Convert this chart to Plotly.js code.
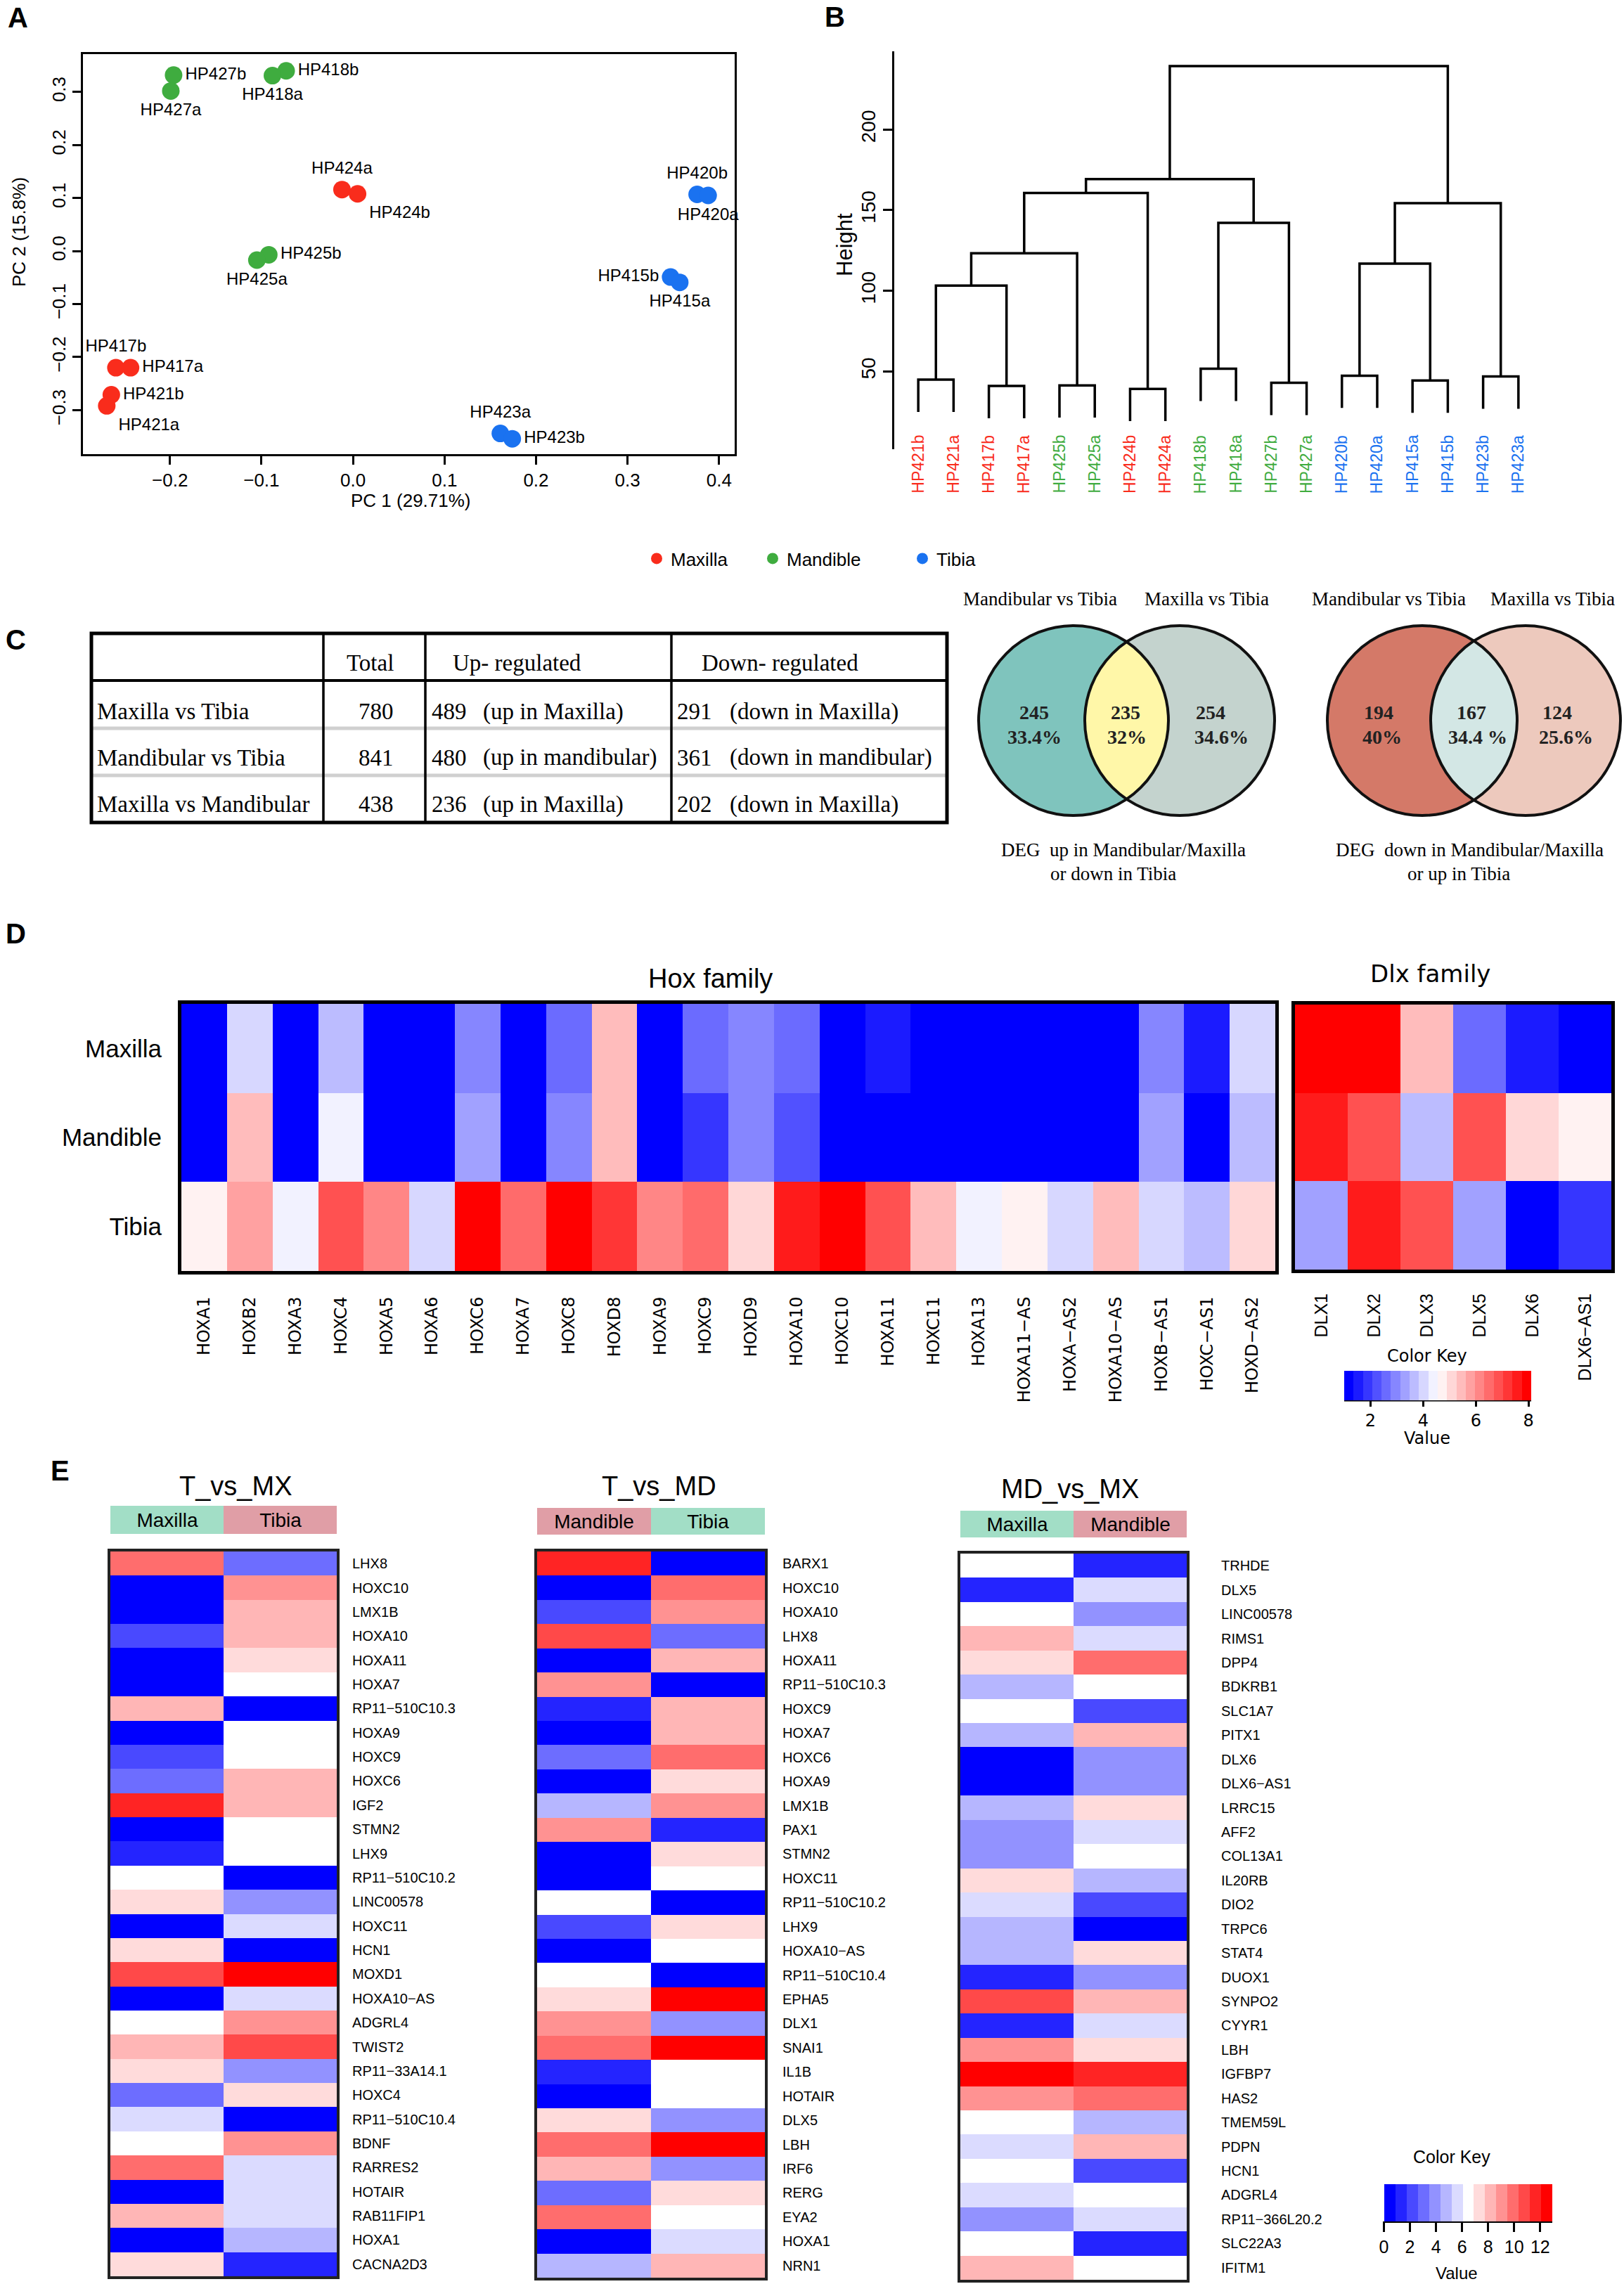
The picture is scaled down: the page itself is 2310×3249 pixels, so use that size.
<!DOCTYPE html>
<html><head><meta charset="utf-8">
<script src="https://cdn.plot.ly/plotly-3.0.1.min.js"></script>
<style>html,body{margin:0;padding:0;background:#fff}</style>
</head><body>
<div id="chart" style="width:2310px;height:3249px"></div>
<script>
// ================= DATA =================
// Panel A: PCA
const pcaSamples = ['HP427b','HP427a','HP418b','HP418a','HP424a','HP424b','HP425b','HP425a','HP420b','HP420a','HP415b','HP415a','HP417b','HP417a','HP421b','HP421a','HP423a','HP423b'];
const pcaPC1 = [-0.196,-0.199,-0.073,-0.088,-0.012,0.005,-0.092,-0.105,0.376,0.388,0.347,0.357,-0.259,-0.243,-0.264,-0.269,0.161,0.174];
const pcaPC2 = [0.332,0.302,0.340,0.331,0.116,0.108,-0.007,-0.017,0.107,0.105,-0.049,-0.059,-0.220,-0.220,-0.271,-0.292,-0.344,-0.354];
const pcaGroup = ['Mandible','Mandible','Mandible','Mandible','Maxilla','Maxilla','Mandible','Mandible','Tibia','Tibia','Tibia','Tibia','Maxilla','Maxilla','Maxilla','Maxilla','Tibia','Tibia'];
const groups = ['Maxilla','Mandible','Tibia'];

// Panel B: hierarchical clustering (leaf order, merges, heights)
const dendroLeaves = ['HP421b','HP421a','HP417b','HP417a','HP425b','HP425a','HP424b','HP424a','HP418b','HP418a','HP427b','HP427a','HP420b','HP420a','HP415a','HP415b','HP423b','HP423a'];
const dendroLeafGroup = ['Maxilla','Maxilla','Maxilla','Maxilla','Mandible','Mandible','Maxilla','Maxilla','Mandible','Mandible','Mandible','Mandible','Tibia','Tibia','Tibia','Tibia','Tibia','Tibia'];
const dendroMergeA = [-1,-3,-5,-7,-9,-11,-13,-15,-17,1,10,11,5,12,7,15,14];
const dendroMergeB = [-2,-4,-6,-8,-10,-12,-14,-16,-18,2,3,4,6,13,8,9,16];
const dendroHeight = [44.8,40.9,41.3,39.1,51.6,42.9,47.3,44.3,46.8,103.1,123.2,160.6,142.1,169.2,116.8,154.2,239.2];

// Panel C: DEG table
const tableHeader = ['Total','Up- regulated','Down- regulated'];
const tableRows = ['Maxilla vs Tibia','Mandibular vs Tibia','Maxilla vs Mandibular'];
const tableTotal = [780,841,438];
const tableUp = [489,480,236];
const tableUpNote = ['(up in Maxilla)','(up in mandibular)','(up in Maxilla)'];
const tableDown = [291,361,202];
const tableDownNote = ['(down in Maxilla)','(down in mandibular)','(down in Maxilla)'];
// Panel C: Venn diagrams
const vennSets = ['Mandibular vs Tibia','Maxilla vs Tibia'];
const vennUpCounts = [245,235,254];
const vennUpPct = ['33.4%','32%','34.6%'];
const vennDownCounts = [194,167,124];
const vennDownPct = ['40%','34.4 %','25.6%'];
const vennUpCaption = ['DEG\u00a0\u00a0up in Mandibular/Maxilla','or down in Tibia'];
const vennDownCaption = ['DEG\u00a0\u00a0down in Mandibular/Maxilla','or up in Tibia'];

// Panel D: heatmaps (expression values)
const tissues = ['Maxilla','Mandible','Tibia'];
const hoxGenes = ['HOXA1','HOXB2','HOXA3','HOXC4','HOXA5','HOXA6','HOXC6','HOXA7','HOXC8','HOXD8','HOXA9','HOXC9','HOXD9','HOXA10','HOXC10','HOXA11','HOXC11','HOXA13','HOXA11\u2212AS','HOXA\u2212AS2','HOXA10\u2212AS','HOXB\u2212AS1','HOXC\u2212AS1','HOXD\u2212AS2'];
const hoxMaxilla  = [1.15,4.02,1.12,3.66,1.10,1.14,2.95,1.16,2.60,5.44,1.13,2.58,2.97,2.62,1.10,1.55,1.12,1.15,1.14,1.11,1.13,2.93,1.52,4.00];
const hoxMandible = [1.12,5.42,1.15,4.37,1.13,1.10,3.30,1.14,2.96,5.46,1.12,1.88,2.94,2.25,1.16,1.18,1.14,1.12,1.16,1.15,1.17,3.32,1.18,3.65];
const hoxTibia    = [4.72,5.80,4.38,6.85,6.16,4.03,7.95,6.52,7.93,7.22,6.14,6.48,5.10,7.58,7.96,6.88,5.45,4.36,4.74,4.01,5.43,4.04,3.67,5.07];
const dlxGenes = ['DLX1','DLX2','DLX3','DLX5','DLX6','DLX6\u2212AS1'];
const dlxMaxilla  = [7.95,7.93,5.45,2.61,1.54,1.16];
const dlxMandible = [7.56,6.86,3.66,6.87,5.08,4.72];
const dlxTibia    = [3.31,7.57,6.85,3.30,1.14,1.90];

// Panel E: DEG heatmaps
const tvmxGenes = ['LHX8','HOXC10','LMX1B','HOXA10','HOXA11','HOXA7','RP11\u2212510C10.3','HOXA9','HOXC9','HOXC6','IGF2','STMN2','LHX9','RP11\u2212510C10.2','LINC00578','HOXC11','HCN1','MOXD1','HOXA10\u2212AS','ADGRL4','TWIST2','RP11\u221233A14.1','HOXC4','RP11\u2212510C10.4','BDNF','RARRES2','HOTAIR','RAB11FIP1','HOXA1','CACNA2D3'];
const tvmxMaxilla = [9.9,0.4,0.3,2.2,0.5,0.4,8.2,0.3,2.1,3.0,11.6,0.4,1.3,6.4,7.3,0.3,7.2,10.8,0.4,6.5,8.1,7.3,3.1,5.6,6.4,9.8,0.2,8.3,0.4,7.4];
const tvmxTibia   = [3.0,9.1,8.2,8.1,7.3,6.4,0.3,6.5,6.4,8.2,8.3,6.3,6.4,0.4,3.9,5.6,0.2,12.5,5.5,9.0,10.7,3.8,7.2,0.3,9.1,5.7,5.6,5.5,4.7,1.2];
const tvmdGenes = ['BARX1','HOXC10','HOXA10','LHX8','HOXA11','RP11\u2212510C10.3','HOXC9','HOXA7','HOXC6','HOXA9','LMX1B','PAX1','STMN2','HOXC11','RP11\u2212510C10.2','LHX9','HOXA10\u2212AS','RP11\u2212510C10.4','EPHA5','DLX1','SNAI1','IL1B','HOTAIR','DLX5','LBH','IRF6','RERG','EYA2','HOXA1','NRN1'];
const tvmdMandible = [11.6,0.3,2.2,10.8,0.4,9.0,1.3,0.3,3.0,0.4,4.7,9.1,0.2,0.4,6.4,2.1,0.3,6.5,7.3,9.0,9.9,1.4,0.3,7.2,9.8,8.2,3.1,9.9,0.4,4.8];
const tvmdTibia    = [0.4,9.9,9.0,3.0,8.2,0.3,8.1,8.2,9.8,7.3,9.1,1.3,7.2,6.4,0.4,7.3,6.5,0.3,12.5,3.9,12.4,6.4,6.3,3.8,12.6,3.9,7.3,6.4,5.6,8.2];
const mdmxGenes = ['TRHDE','DLX5','LINC00578','RIMS1','DPP4','BDKRB1','SLC1A7','PITX1','DLX6','DLX6\u2212AS1','LRRC15','AFF2','COL13A1','IL20RB','DIO2','TRPC6','STAT4','DUOX1','SYNPO2','CYYR1','LBH','IGFBP7','HAS2','TMEM59L','PDPN','HCN1','ADGRL4','RP11\u2212366L20.2','SLC22A3','IFITM1'];
const mdmxMaxilla  = [6.4,1.3,6.5,8.2,7.3,4.7,6.4,4.8,0.3,0.4,4.7,3.9,3.8,7.3,5.6,4.6,4.7,1.2,10.8,1.3,9.0,12.5,9.1,6.5,5.6,6.4,5.5,3.9,6.3,8.2];
const mdmxMandible = [1.3,5.6,3.9,5.5,9.9,6.4,2.2,8.2,3.8,3.9,7.3,5.6,6.4,4.7,2.1,0.3,7.2,3.9,8.1,5.6,7.3,11.6,9.8,4.8,8.2,2.2,6.4,5.6,1.2,6.5];

// ================= STYLE / LAYOUT HELPERS =================
const W = 2310, H = 3249;
const px = x => x / W, py = y => 1 - y / H;
const dX = (a, b) => [a / W, b / W];
const dY = (t, b) => [1 - b / H, 1 - t / H];
const SANS = 'Liberation Sans, Arial, sans-serif';
const SERIF = "'Liberation Serif', 'Times New Roman', serif";
const DEJAVU = "'DejaVu Sans', sans-serif";
const groupColor = {Maxilla:'#F92C1C', Mandible:'#3FAC3F', Tibia:'#1A72F0'};
const MINT = '#A2DEC6', PINK = '#E09EA6';
const pal20 = ['#0000FF','#1B1BFF','#3636FF','#5151FF','#6B6BFF','#8686FF','#A1A1FF','#BCBCFF','#D7D7FF','#F2F2FF','#FFF2F2','#FFD7D7','#FFBCBC','#FFA1A1','#FF8686','#FF6B6B','#FF5151','#FF3636','#FF1B1B','#FF0000'];
const pal15 = ['#0000FF','#2424FF','#4949FF','#6D6DFF','#9292FF','#B6B6FF','#DBDBFF','#FFFFFF','#FFDBDB','#FFB6B6','#FF9292','#FF6D6D','#FF4949','#FF2424','#FF0000'];
const steps = pal => { const n = pal.length, cs = []; pal.forEach((c, i) => { cs.push([i / n, c]); cs.push([(i + 1) / n, c]); }); return cs; };
const ann = (x, y, text, font, opts) => Object.assign({xref:'paper', yref:'paper', x:px(x), y:py(y), text:text, showarrow:false, font:font, xanchor:'center', yanchor:'middle'}, opts || {});

const traces = [];
const annotations = [];
const shapes = [];

// ---------- Panel A ----------
const pcaLabelSide = {HP427b:'middle right', HP427a:'bottom center', HP418b:'middle right', HP418a:'bottom center', HP424a:'top center', HP424b:'bottom right', HP425b:'middle right', HP425a:'bottom center', HP420b:'top center', HP420a:'bottom center', HP415b:'middle left', HP415a:'bottom center', HP417b:'top center', HP417a:'middle right', HP421b:'middle right', HP421a:'bottom right', HP423a:'top center', HP423b:'middle right'};
groups.forEach(g => {
  const idx = pcaSamples.map((s, i) => i).filter(i => pcaGroup[i] === g);
  traces.push({type:'scatter', mode:'markers+text', xaxis:'x', yaxis:'y',
    x: idx.map(i => pcaPC1[i]), y: idx.map(i => pcaPC2[i]), text: idx.map(i => pcaSamples[i]),
    textposition: idx.map(i => pcaLabelSide[pcaSamples[i]]),
    textfont:{family:SANS, size:24, color:'#000'}, marker:{size:25, color:groupColor[g]},
    showlegend:false, hoverinfo:'skip', cliponaxis:false});
});
const legendOf = {Maxilla:'legend', Mandible:'legend', Tibia:'legend2'};
groups.forEach(g => traces.push({type:'scatter', mode:'markers', xaxis:'x', yaxis:'y', x:[null], y:[null], name:g, legend:legendOf[g], marker:{size:24, color:groupColor[g]}, showlegend:true, hoverinfo:'skip'}));

// ---------- Panel B ----------
(function () {
  const maxH = Math.max(...dendroHeight), minH = Math.min(...dendroHeight);
  const hang = 0.1 * (maxH - minH);
  const mx = [];
  const cx = c => c < 0 ? -c : mx[c - 1];
  const xs = [], ys = [];
  dendroHeight.forEach((h, i) => {
    const a = dendroMergeA[i], b = dendroMergeB[i];
    const xa = cx(a), xb = cx(b);
    const ya = a < 0 ? h - hang : dendroHeight[a - 1];
    const yb = b < 0 ? h - hang : dendroHeight[b - 1];
    mx[i] = (xa + xb) / 2;
    xs.push(xa, xa, xb, xb, null); ys.push(ya, h, h, yb, null);
  });
  traces.push({type:'scatter', mode:'lines', xaxis:'x2', yaxis:'y2', x:xs, y:ys, line:{color:'#000', width:3.5}, showlegend:false, hoverinfo:'skip'});
  dendroLeaves.forEach((lab, i) => annotations.push({xref:'x2', yref:'paper', x:i + 1, y:py(617), text:lab, textangle:-90, showarrow:false, xanchor:'center', yanchor:'top', font:{family:SANS, size:23, color:groupColor[dendroLeafGroup[i]]}}));
})();

// ---------- Panel D ----------
traces.push({type:'heatmap', xaxis:'x4', yaxis:'y4', x:hoxGenes, y:tissues, z:[hoxMaxilla, hoxMandible, hoxTibia], coloraxis:'coloraxis', hoverinfo:'skip'});
traces.push({type:'heatmap', xaxis:'x5', yaxis:'y5', x:dlxGenes, y:tissues, z:[dlxMaxilla, dlxMandible, dlxTibia], coloraxis:'coloraxis', hoverinfo:'skip'});

// ---------- Panel E ----------
const eBlocks = [
  {ax:6, bx:7, genes:tvmxGenes, a:tvmxMaxilla, b:tvmxTibia, names:['Maxilla','Tibia'], colors:[MINT, PINK], hx:[157,479], hy:[2207,3238], by:[2142,2182], standoff:14, title:'T_vs_MX', tx:335, ty:2114},
  {ax:8, bx:9, genes:tvmdGenes, a:tvmdMandible, b:tvmdTibia, names:['Mandible','Tibia'], colors:[PINK, MINT], hx:[764,1088], hy:[2207,3240], by:[2145,2183], standoff:17, title:'T_vs_MD', tx:937, ty:2114},
  {ax:10, bx:11, genes:mdmxGenes, a:mdmxMaxilla, b:mdmxMandible, names:['Maxilla','Mandible'], colors:[MINT, PINK], hx:[1366,1688], hy:[2210,3243], by:[2149,2187], standoff:41, title:'MD_vs_MX', tx:1522, ty:2118}
];
eBlocks.forEach(e => {
  traces.push({type:'heatmap', xaxis:'x' + e.ax, yaxis:'y' + e.ax, x:e.names, y:e.genes, z:e.genes.map((g, i) => [e.a[i], e.b[i]]), coloraxis:'coloraxis2', hoverinfo:'skip'});
  traces.push({type:'heatmap', xaxis:'x' + e.bx, yaxis:'y' + e.bx, x:e.names, y:['group'], z:[[0, 1]], text:[e.names], texttemplate:'%{text}', textfont:{family:SANS, size:28, color:'#000'}, colorscale:[[0, e.colors[0]], [1, e.colors[1]]], zmin:0, zmax:1, showscale:false, hoverinfo:'skip'});
  annotations.push(ann(e.tx, e.ty, e.title, {family:SANS, size:38, color:'#000'}));
});

// ---------- Layout ----------
const layout = {
  width:W, height:H, margin:{l:0, r:0, t:0, b:0}, paper_bgcolor:'#fff', plot_bgcolor:'#fff',
  font:{family:SANS, color:'#000'}, showlegend:true,
  legend:{orientation:'h', x:px(914), y:py(771), xanchor:'left', yanchor:'top', font:{family:SANS, size:26, color:'#000'}, entrywidth:120, itemsizing:'trace', bgcolor:'rgba(0,0,0,0)'},
  legend2:{orientation:'h', x:px(1292), y:py(771), xanchor:'left', yanchor:'top', font:{family:SANS, size:26, color:'#000'}, itemsizing:'trace', bgcolor:'rgba(0,0,0,0)'},
  xaxis:{domain:dX(118,1045), anchor:'y', range:[-0.295,0.417], tickvals:[-0.2,-0.1,0,0.1,0.2,0.3,0.4], tickformat:'.1f', ticks:'outside', ticklen:12, tickwidth:3, tickcolor:'#000', showline:true, mirror:true, linewidth:3, linecolor:'#000', showgrid:false, zeroline:false, tickfont:{family:SANS, size:26}},
  yaxis:{domain:dY(77,646), anchor:'x', range:[-0.383,0.3715], tickvals:[-0.3,-0.2,-0.1,0,0.1,0.2,0.3], tickformat:'.1f', tickangle:-90, ticks:'outside', ticklen:12, tickwidth:3, tickcolor:'#000', showline:true, mirror:true, linewidth:3, linecolor:'#000', showgrid:false, zeroline:false, tickfont:{family:SANS, size:26}},
  xaxis2:{domain:dX(1272,2200), anchor:'y2', range:[0.32,18.8], visible:false},
  yaxis2:{domain:dY(73,639), anchor:'x2', range:[1.7,248.4], tickvals:[50,100,150,200], tickangle:-90, ticks:'outside', ticklen:13, tickwidth:3, tickcolor:'#000', showline:true, linewidth:3, linecolor:'#000', showgrid:false, zeroline:false, tickfont:{family:SANS, size:28}},
  xaxis4:{domain:dX(258,1814), anchor:'y4', tickmode:'array', tickvals:hoxGenes, ticktext:hoxGenes, tickangle:-90, ticks:'', ticklabelstandoff:22, tickfont:{family:DEJAVU, size:24}, showline:true, mirror:true, linewidth:5, linecolor:'#000', showgrid:false, zeroline:false},
  yaxis4:{domain:dY(1428,1808), anchor:'x4', range:[2.5,-0.5], tickmode:'array', tickvals:tissues, ticktext:tissues, ticks:'', ticklabelstandoff:16, tickfont:{family:SANS, size:35}, showline:true, mirror:true, linewidth:5, linecolor:'#000', showgrid:false, zeroline:false},
  xaxis5:{domain:dX(1842,2292), anchor:'y5', tickmode:'array', tickvals:dlxGenes, ticktext:dlxGenes, tickangle:-90, ticks:'', ticklabelstandoff:19, tickfont:{family:SANS, size:25}, showline:true, mirror:true, linewidth:5, linecolor:'#000', showgrid:false, zeroline:false},
  yaxis5:{domain:dY(1429,1806), anchor:'x5', range:[2.5,-0.5], showticklabels:false, ticks:'', showline:true, mirror:true, linewidth:5, linecolor:'#000', showgrid:false, zeroline:false},
  coloraxis:{cmin:1.0, cmax:8.1, colorscale:steps(pal20), colorbar:{orientation:'h', x:px(2045), xanchor:'center', y:py(1950), yanchor:'top', len:266, lenmode:'pixels', thickness:42, thicknessmode:'pixels', outlinewidth:0, tickvals:[2,4,6,8], ticks:'outside', ticklen:9, tickwidth:3, tickcolor:'#000', tickfont:{family:DEJAVU, size:24}, xpad:0, ypad:0}},
  coloraxis2:{cmin:0, cmax:12.9, colorscale:steps(pal15), colorbar:{orientation:'h', x:px(2088), xanchor:'center', y:py(3107), yanchor:'top', len:239, lenmode:'pixels', thickness:53, thicknessmode:'pixels', outlinewidth:0, tickvals:[0,2,4,6,8,10,12], ticks:'outside', ticklen:15, tickwidth:3, tickcolor:'#000', tickfont:{family:SANS, size:25}, xpad:0, ypad:0}},
  annotations:annotations, shapes:shapes
};
eBlocks.forEach(e => {
  layout['xaxis' + e.ax] = {domain:dX(e.hx[0], e.hx[1]), anchor:'y' + e.ax, range:[-0.5,1.5], showticklabels:false, ticks:'', showline:true, mirror:true, linewidth:4, linecolor:'#222', showgrid:false, zeroline:false};
  layout['yaxis' + e.ax] = {domain:dY(e.hy[0], e.hy[1]), anchor:'x' + e.ax, side:'right', type:'category', range:[e.genes.length - 0.5, -0.5], tickmode:'array', tickvals:e.genes, ticktext:e.genes, ticks:'', ticklabelstandoff:e.standoff, tickfont:{family:SANS, size:20, color:'#000'}, showline:true, mirror:true, linewidth:4, linecolor:'#222', showgrid:false, zeroline:false};
  layout['xaxis' + e.bx] = {domain:dX(e.hx[0], e.hx[1]), anchor:'y' + e.bx, range:[-0.5,1.5], visible:false};
  layout['yaxis' + e.bx] = {domain:dY(e.by[0], e.by[1]), anchor:'x' + e.bx, visible:false};
});

// ---------- Text annotations ----------
const letter = {family:SANS, size:40, color:'#000'};
annotations.push(ann(25, 25, '<b>A</b>', letter), ann(1187, 24, '<b>B</b>', letter), ann(22, 910, '<b>C</b>', letter), ann(22, 1328, '<b>D</b>', letter), ann(85, 2092, '<b>E</b>', letter));
annotations.push(ann(585, 712, 'PC 1 (29.71%)', {family:SANS, size:26}), ann(27, 330, 'PC 2 (15.8%)', {family:SANS, size:26}, {textangle:-90}));
annotations.push(ann(1202, 348, 'Height', {family:SANS, size:31}, {textangle:-90}));
annotations.push(ann(1010, 1392, 'Hox family', {family:SANS, size:38}), ann(2035, 1385, 'Dlx family', {family:DEJAVU, size:34}));
annotations.push(ann(2030, 1929, 'Color Key', {family:DEJAVU, size:24}), ann(2030, 2046, 'Value', {family:DEJAVU, size:24}));
annotations.push(ann(2065, 3068, 'Color Key', {family:SANS, size:25}), ann(2072, 3233, 'Value', {family:SANS, size:24}));
shapes.push({type:'line', xref:'paper', yref:'paper', x0:px(1912), x1:px(2178), y0:py(1992), y1:py(1992), line:{color:'#000', width:3}});
shapes.push({type:'line', xref:'paper', yref:'paper', x0:px(1969), x1:px(2208), y0:py(3160), y1:py(3160), line:{color:'#000', width:4}});

// ---------- Panel C: table ----------
const TF = {family:SERIF, size:33, color:'#000'};
const rowY = [1012, 1078, 1144];
shapes.push({type:'line', xref:'paper', yref:'paper', x0:px(130), x1:px(1347), y0:py(1036), y1:py(1036), line:{color:'#D0D0D0', width:5}});
shapes.push({type:'line', xref:'paper', yref:'paper', x0:px(130), x1:px(1347), y0:py(1103), y1:py(1103), line:{color:'#D0D0D0', width:5}});
shapes.push({type:'line', xref:'paper', yref:'paper', x0:px(130), x1:px(1347), y0:py(968), y1:py(968), line:{color:'#000', width:4}});
[460, 605, 955].forEach(x => shapes.push({type:'line', xref:'paper', yref:'paper', x0:px(x), x1:px(x), y0:py(901), y1:py(1170), line:{color:'#000', width:3.5}}));
shapes.push({type:'rect', xref:'paper', yref:'paper', x0:px(130), x1:px(1347), y0:py(1170), y1:py(901), line:{color:'#000', width:5}});
annotations.push(ann(562, 943, tableHeader[0], TF, {xanchor:'right'}), ann(642, 943, tableHeader[1], TF, {xanchor:'left'}), ann(996, 943, tableHeader[2], TF, {xanchor:'left'}));
tableRows.forEach((r, i) => {
  annotations.push(ann(136, rowY[i], r, TF, {xanchor:'left'}));
  annotations.push(ann(562, rowY[i], String(tableTotal[i]), TF, {xanchor:'right'}));
  annotations.push(ann(612, rowY[i], String(tableUp[i]), TF, {xanchor:'left'}));
  annotations.push(ann(685, rowY[i], tableUpNote[i], TF, {xanchor:'left'}));
  annotations.push(ann(961, rowY[i], String(tableDown[i]), TF, {xanchor:'left'}));
  annotations.push(ann(1036, rowY[i], tableDownNote[i], TF, {xanchor:'left'}));
});

// ---------- Panel C: Venn ----------
function lensPath(c1, c2, cy, r) {
  const th = Math.acos((c2 - c1) / 2 / r), n = 48, pts = [];
  for (let k = 0; k <= n; k++) { const a = -th + 2 * th * k / n; pts.push([c1 + r * Math.cos(a), cy - r * Math.sin(a)]); }
  for (let k = 0; k <= n; k++) { const a = Math.PI - th + 2 * th * k / n; pts.push([c2 + r * Math.cos(a), cy - r * Math.sin(a)]); }
  return 'M ' + pts.map(p => px(p[0]).toFixed(6) + ' ' + py(p[1]).toFixed(6)).join(' L ') + ' Z';
}
function circ(cx, cy, r, fill, line) {
  return {type:'circle', xref:'paper', yref:'paper', x0:px(cx - r), x1:px(cx + r), y0:py(cy + r), y1:py(cy - r), fillcolor:fill, line:line};
}
const VF = {family:SERIF, size:27, color:'#000'};
const VB = {family:SERIF, size:28, color:'#222'};
[[1527, 1678, ['#7FC4BD', '#C4D3CE', '#FFF7A8'], vennUpCounts, vennUpPct, vennUpCaption, [1471, 1601, 1722], [1471, 1603, 1737], 1598],
 [2023, 2170, ['#D47968', '#EDC9BD', '#D3E7E5'], vennDownCounts, vennDownPct, vennDownCaption, [1961, 2093, 2215], [1966, 2102, 2227], 2090]].forEach(v => {
  const [c1, c2, cols, counts, pct, cap, nx, pxs, capx] = v, cy = 1025, r = 135;
  shapes.push(circ(c1, cy, r, cols[0], {width:0}));
  shapes.push(circ(c2, cy, r, cols[1], {width:0}));
  shapes.push({type:'path', xref:'paper', yref:'paper', path:lensPath(c1, c2, cy, r), fillcolor:cols[2], line:{width:0}});
  shapes.push(circ(c1, cy, r, 'rgba(0,0,0,0)', {color:'#111', width:4}));
  shapes.push(circ(c2, cy, r, 'rgba(0,0,0,0)', {color:'#111', width:4}));
  counts.forEach((c, i) => {
    annotations.push(ann(nx[i], 1013, '<b>' + c + '</b>', VB));
    annotations.push(ann(pxs[i], 1048, '<b>' + pct[i] + '</b>', VB));
  });
  annotations.push(ann(c1 - 48, 852, vennSets[0], VF), ann(c2 + 38, 852, vennSets[1], VF));
  annotations.push(ann(capx, 1209, cap[0], VF), ann(capx - 15, 1243, cap[1], VF));
});

Plotly.newPlot('chart', traces, layout, {staticPlot:true});
</script>
</body></html>
